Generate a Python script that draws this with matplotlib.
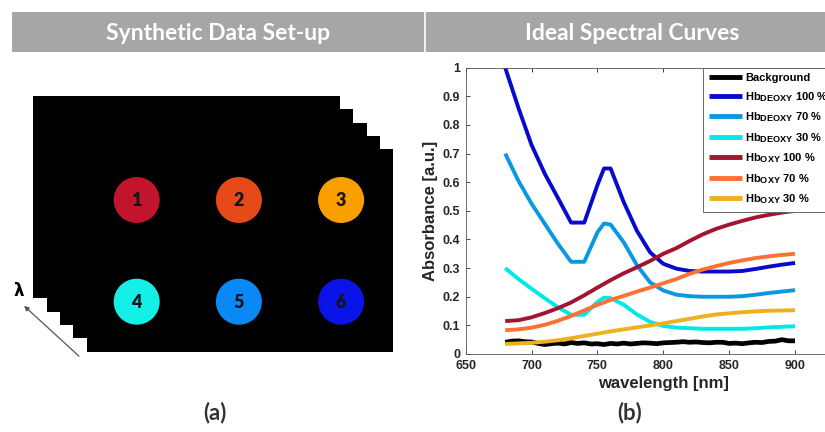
import matplotlib.pyplot as plt
import matplotlib._mathtext as mathtext_internal
from matplotlib.patches import Rectangle, Circle, FancyArrowPatch
import numpy as np

plt.rcParams['font.family'] = ['Liberation Sans', 'DejaVu Sans']
plt.rcParams['mathtext.fontset'] = 'custom'
plt.rcParams['mathtext.rm'] = 'Liberation Sans'
plt.rcParams['mathtext.bf'] = 'Liberation Sans:bold'
# subscripts in the original legend are only slightly smaller than the text
if hasattr(mathtext_internal, 'SHRINK_FACTOR'):
    mathtext_internal.SHRINK_FACTOR = 0.82

# spectra data
wl = [680, 690, 700, 710, 720, 730, 740, 750, 755, 760, 770, 780, 790,
      800, 810, 820, 830, 840, 850, 860, 870, 880, 890, 900]
deoxy_100 = [1.0, 0.86, 0.73, 0.63, 0.545, 0.459, 0.459, 0.59, 0.648, 0.648,
             0.53, 0.43, 0.355, 0.315, 0.298, 0.29, 0.288, 0.288, 0.288, 0.29,
             0.297, 0.305, 0.312, 0.318]
deoxy_70 = [0.70, 0.605, 0.525, 0.455, 0.385, 0.322, 0.322, 0.425, 0.456, 0.452,
            0.39, 0.31, 0.25, 0.222, 0.207, 0.202, 0.2, 0.2, 0.2, 0.202,
            0.207, 0.213, 0.218, 0.223]
deoxy_30 = [0.30, 0.262, 0.228, 0.195, 0.163, 0.137, 0.137, 0.182, 0.197, 0.195,
            0.172, 0.138, 0.112, 0.098, 0.092, 0.09, 0.088, 0.088, 0.088, 0.088,
            0.09, 0.093, 0.095, 0.097]
oxy_100 = [0.115, 0.118, 0.128, 0.143, 0.16, 0.18, 0.205, 0.232, 0.245, 0.258,
           0.282, 0.303, 0.325, 0.35, 0.37, 0.395, 0.418, 0.437, 0.452, 0.465,
           0.477, 0.486, 0.494, 0.5]
oxy_70 = [0.083, 0.086, 0.092, 0.102, 0.116, 0.133, 0.152, 0.172, 0.18, 0.189,
          0.203, 0.218, 0.232, 0.247, 0.262, 0.28, 0.295, 0.307, 0.318, 0.327,
          0.335, 0.341, 0.346, 0.35]
oxy_30 = [0.035, 0.037, 0.039, 0.043, 0.048, 0.055, 0.063, 0.071, 0.075, 0.079,
          0.086, 0.093, 0.1, 0.107, 0.115, 0.123, 0.131, 0.138, 0.142, 0.146,
          0.149, 0.151, 0.152, 0.153]

wl_bg = list(range(680, 905, 5))
background = [0.041, 0.045, 0.046, 0.043, 0.042, 0.037, 0.033, 0.036, 0.038, 0.035,
              0.040, 0.037, 0.039, 0.035, 0.036, 0.033, 0.037, 0.035, 0.038, 0.035,
              0.037, 0.039, 0.038, 0.036, 0.039, 0.040, 0.041, 0.043, 0.041, 0.042,
              0.040, 0.039, 0.041, 0.041, 0.037, 0.038, 0.036, 0.039, 0.041, 0.040,
              0.044, 0.045, 0.050, 0.046, 0.046]

series = [
    (wl_bg, background, 'Background', '#000000', 3.4),
    (wl, deoxy_100, r'Hb$_{\mathbf{DEOXY}}$ 100 %', '#0A0ACC', 2.8),
    (wl, deoxy_70, r'Hb$_{\mathbf{DEOXY}}$ 70 %', '#0A99E0', 2.8),
    (wl, deoxy_30, r'Hb$_{\mathbf{DEOXY}}$ 30 %', '#00E8E8', 2.8),
    (wl, oxy_100, r'Hb$_{\mathbf{OXY}}$ 100 %', '#A2142F', 2.8),
    (wl, oxy_70, r'Hb$_{\mathbf{OXY}}$ 70 %', '#FF7033', 2.8),
    (wl, oxy_30, r'Hb$_{\mathbf{OXY}}$ 30 %', '#EDB120', 2.8),
]

# synthetic set-up: circle labels and colours, row-major 2 x 3 grid
spot_labels = ['1', '2', '3', '4', '5', '6']
spot_colors = ['#C3142D', '#E64A19', '#F9A000', '#14F0E6', '#0A88F5', '#0A14E6']

W, H = 825, 432
fig = plt.figure(figsize=(W / 100, H / 100), dpi=100)

# overlay axes in pixel coords for header and left panel
bg = fig.add_axes([0, 0, 1, 1])
bg.set_xlim(0, W)
bg.set_ylim(H, 0)
bg.axis('off')

bg.add_patch(Rectangle((12, 12), W - 12, 40, color='#A6A6A6', lw=0))
bg.plot([425, 425], [12, 52], color='white', lw=1.2)
bg.text(218, 33, 'Synthetic Data Set-up', color='white', fontsize=16.5,
        fontweight='bold', family='Lato', ha='center', va='center')
bg.text(632, 33, 'Ideal Spectral Curves', color='white', fontsize=16.5,
        fontweight='bold', family='Lato', ha='center', va='center')

# stacked image layers
for i in range(5):
    bg.add_patch(Rectangle((33.3 + 13.33 * i, 96 + 13.33 * i), 306.7, 202.3,
                           color='black', lw=0))

for k, (lab, col) in enumerate(zip(spot_labels, spot_colors)):
    cx = 136.7 + 102.2 * (k % 3)
    cy = 200 + 101.7 * (k // 3)
    bg.add_patch(Circle((cx, cy), 23, color=col, lw=0))
    bg.text(cx, cy + 1, lab, fontsize=13, fontweight='heavy', family='Lato',
            color='#151515', ha='center', va='center')

bg.add_patch(FancyArrowPatch((81, 358), (22, 304), arrowstyle='-|>',
                             mutation_scale=7, color='#555555', lw=0.9))
bg.text(19, 291, 'λ', fontsize=12, fontweight='bold', family='DejaVu Sans',
        ha='center', va='center')

bg.text(215, 413, '(a)', fontsize=16, fontweight='bold', family='Lato',
        color='#333333', ha='center', va='center')
bg.text(630, 413, '(b)', fontsize=16, fontweight='bold', family='Lato',
        color='#333333', ha='center', va='center')

# spectral curves
ax = fig.add_axes([465.7 / W, 1 - 354 / H, (860.9 - 465.7) / W, (354 - 67.7) / H])
for x, y, lab, col, lw in series:
    ax.plot(x, y, color=col, lw=lw, label=lab, solid_capstyle='butt')

ax.set_xlim(650, 950)
ax.set_ylim(0, 1)
ax.set_xticks(np.arange(650, 901, 50))
ax.set_yticks(np.arange(0, 1.01, 0.1))
ax.set_yticklabels(['0', '0.1', '0.2', '0.3', '0.4', '0.5', '0.6', '0.7',
                    '0.8', '0.9', '1'])
ax.tick_params(direction='in', length=3, width=0.6, top=True, right=True,
               labelsize=9, colors='#262626', pad=4)
for t in ax.get_xticklabels() + ax.get_yticklabels():
    t.set_fontweight('bold')
for s in ax.spines.values():
    s.set_color('#555555')
    s.set_linewidth(0.6)
ax.set_xlabel('wavelength [nm]', fontsize=12, fontweight='bold',
              color='#262626', labelpad=3)
ax.set_ylabel('Absorbance [a.u.]', fontsize=12, fontweight='bold',
              color='#262626', labelpad=3)

leg = ax.legend(loc='upper left', bbox_to_anchor=(0.601, 1.0), borderaxespad=0,
                prop={'weight': 'bold', 'size': 8}, handlelength=3.0,
                handletextpad=0.3, labelspacing=0.6, borderpad=0.5,
                fancybox=False, framealpha=1)
leg.get_frame().set_edgecolor('#555555')
leg.get_frame().set_linewidth(0.6)
for line in leg.get_lines():
    line.set_linewidth(3.5)

fig.savefig('out.png', dpi=100)
